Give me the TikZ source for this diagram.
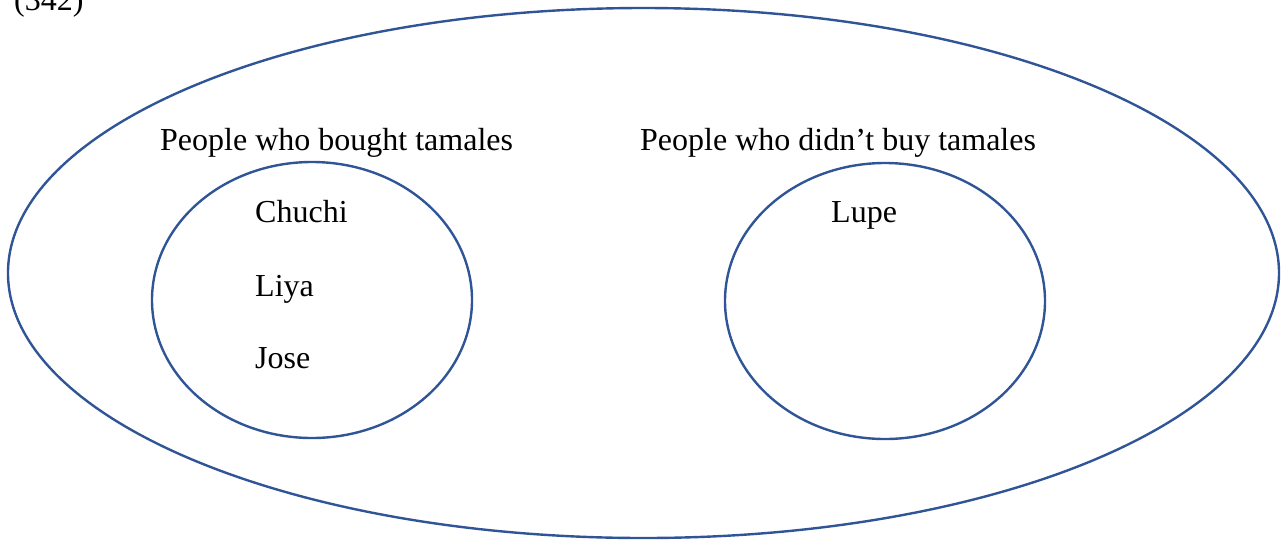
\documentclass[tikz,border=0pt]{standalone}
\usepackage{fontspec}
\setmainfont{Liberation Serif}
\definecolor{setblue}{HTML}{2F5597}
\tikzset{
  setline/.style={draw=setblue, line width=2.4pt},
  lbl/.style={anchor=base west, inner sep=0pt, font=\fontsize{32}{38}\selectfont, text=black}
}
\begin{document}
\begin{tikzpicture}[x=1pt,y=-1pt]
\useasboundingbox (0,0) rectangle (1285,542);
\clip (0,0) rectangle (1285,542);
\node[lbl] (num) at (14,10) {(342)};
\draw[setline] (643.5,273) ellipse [x radius=635.5, y radius=265];
\draw[setline] (312,300) ellipse [x radius=160, y radius=138];
\draw[setline] (885,301) ellipse [x radius=160, y radius=138];
\node[lbl] (bought) at (160,150) {People who bought tamales};
\node[lbl] (notbought) at (640,150) {People who didn’t buy tamales};
\node[lbl] (chuchi) at (255,222) {Chuchi};
\node[lbl] (liya) at (255,296) {Liya};
\node[lbl] (jose) at (255,368) {Jose};
\node[lbl] (lupe) at (831,222) {Lupe};
\end{tikzpicture}
\end{document}
